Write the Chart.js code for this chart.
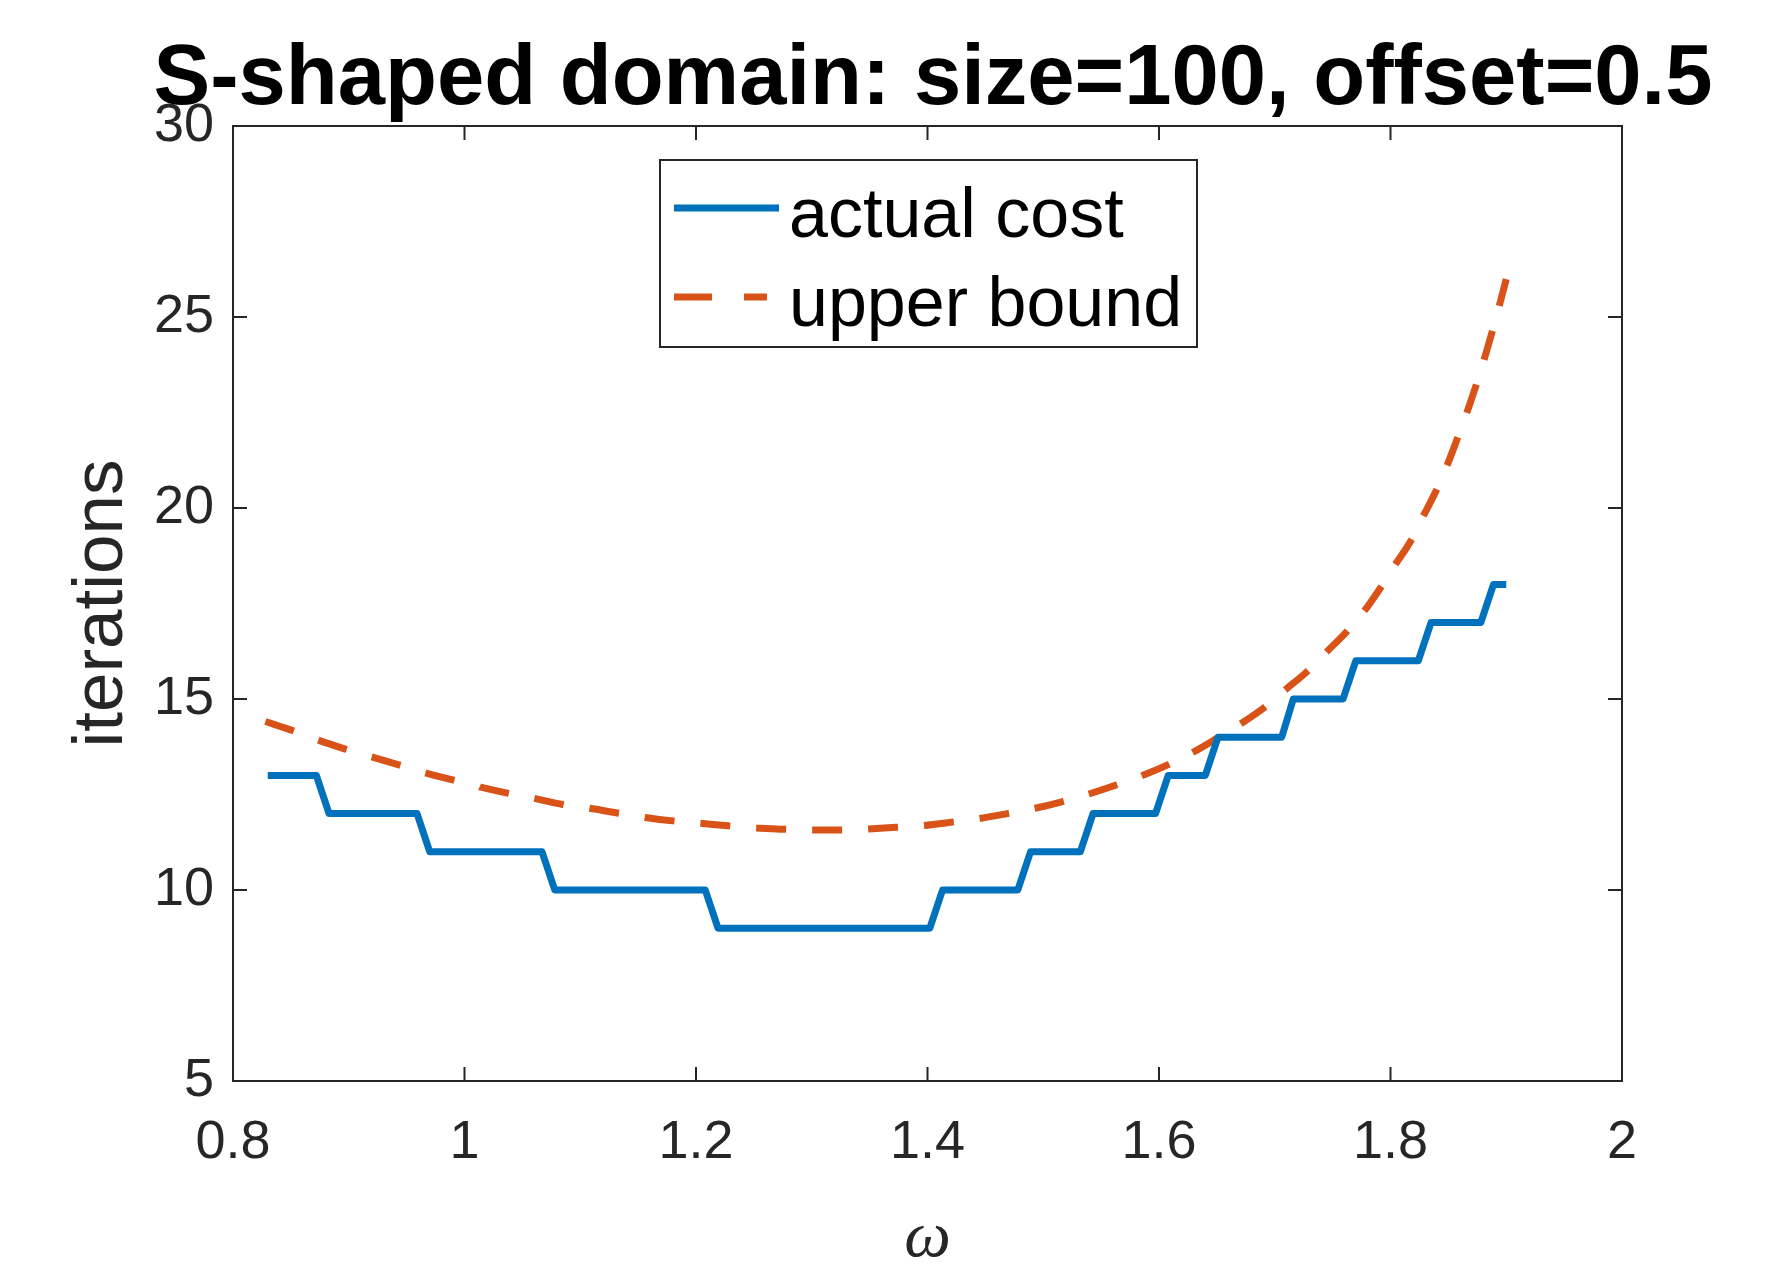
<!DOCTYPE html>
<html>
<head>
<meta charset="utf-8">
<script src="https://cdn.jsdelivr.net/npm/chart.js@4.4.1/dist/chart.umd.min.js"></script>
<style>
  html, body { margin: 0; padding: 0; background: #fff; }
  #wrap { width: 1792px; height: 1280px; }
</style>
</head>
<body>
<div id="wrap"><canvas id="chart" width="1792" height="1280"></canvas></div>
<script>
// actual cost: corners of the staircase (omega, iterations)
const costOmega = [0.830, 0.872, 0.883, 0.959, 0.970, 1.067, 1.078, 1.208, 1.219, 1.402,
                   1.413, 1.478, 1.489, 1.532, 1.543, 1.597, 1.608, 1.640, 1.651, 1.706,
                   1.716, 1.759, 1.770, 1.824, 1.835, 1.878, 1.889, 1.900];
const costIters = [13, 13, 12, 12, 11, 11, 10, 10, 9, 9,
                   10, 10, 11, 11, 12, 12, 13, 13, 14, 14,
                   15, 15, 16, 16, 17, 17, 18, 18];

// upper bound curve, read along the dashes
const boundOmega = [0.828, 0.852, 0.873, 0.897, 0.919, 0.944, 0.966, 0.990, 1.013, 1.038,
                    1.060, 1.085, 1.108, 1.133, 1.156, 1.180, 1.203, 1.228, 1.252, 1.276,
                    1.301, 1.325, 1.349, 1.373, 1.397, 1.422, 1.445, 1.469, 1.493, 1.516,
                    1.540, 1.563, 1.585, 1.607, 1.629, 1.650, 1.671, 1.691, 1.709, 1.728,
                    1.745, 1.762, 1.777, 1.792, 1.804, 1.818, 1.828, 1.840, 1.850, 1.860,
                    1.870, 1.880, 1.890, 1.900];
const boundIters = [14.41, 14.17, 13.93, 13.69, 13.49, 13.27, 13.07, 12.88, 12.70, 12.53,
                    12.40, 12.24, 12.14, 12.01, 11.90, 11.81, 11.75, 11.68, 11.62, 11.59,
                    11.57, 11.57, 11.60, 11.64, 11.69, 11.78, 11.87, 12.00, 12.14, 12.31,
                    12.52, 12.75, 12.99, 13.27, 13.60, 13.97, 14.36, 14.78, 15.24, 15.72,
                    16.24, 16.76, 17.29, 17.94, 18.51, 19.16, 19.77, 20.49, 21.20, 22.00,
                    22.85, 23.80, 24.85, 25.99];

const seriesNames = ['actual cost', 'upper bound'];
const xTicks = [0.8, 1, 1.2, 1.4, 1.6, 1.8, 2];
const yTicks = [5, 10, 15, 20, 25, 30];
const titleText = 'S-shaped domain: size=100, offset=0.5';

const SANS = '"Liberation Sans", Arial, Helvetica, sans-serif';
const AXIS = '#262626';
const BLUE = '#0072BD';
const ORANGE = '#D95319';
const DASH = [30, 26];

const costData = costOmega.map((x, i) => ({ x: x, y: costIters[i] }));
const boundData = boundOmega.map((x, i) => ({ x: x, y: boundIters[i] }));

// box round the axes with inward tick marks, plus the title
const boxPlugin = {
    id: 'boxTicks',
    afterDraw(chart) {
        const { ctx, chartArea: a, scales } = chart;
        const len = 14;
        ctx.save();
        ctx.strokeStyle = AXIS;
        ctx.lineWidth = 2;
        ctx.strokeRect(a.left, a.top, a.right - a.left, a.bottom - a.top);
        ctx.beginPath();
        xTicks.forEach(v => {
            const px = scales.x.getPixelForValue(v);
            ctx.moveTo(px, a.bottom); ctx.lineTo(px, a.bottom - len);
            ctx.moveTo(px, a.top); ctx.lineTo(px, a.top + len);
        });
        yTicks.forEach(v => {
            const py = scales.y.getPixelForValue(v);
            ctx.moveTo(a.left, py); ctx.lineTo(a.left + len, py);
            ctx.moveTo(a.right, py); ctx.lineTo(a.right - len, py);
        });
        ctx.stroke();

        // title, centred a little right of the plot centre as in the figure
        ctx.fillStyle = '#000';
        ctx.font = 'bold 85px ' + SANS;
        ctx.textAlign = 'center';
        ctx.textBaseline = 'alphabetic';
        ctx.fillText(titleText, 933, 104);
        ctx.restore();
    }
};

// legend box inside the plot, top centre
const legendPlugin = {
    id: 'boxLegend',
    afterDraw(chart) {
        const ctx = chart.ctx;
        const bx = 660, by = 160, bw = 537, bh = 187;
        ctx.save();
        ctx.fillStyle = '#fff';
        ctx.fillRect(bx, by, bw, bh);
        ctx.strokeStyle = AXIS;
        ctx.lineWidth = 2;
        ctx.strokeRect(bx, by, bw, bh);
        const rows = [208, 297];
        chart.data.datasets.forEach((ds, i) => {
            const y = rows[i];
            const dashed = !!ds.borderDash;
            ctx.strokeStyle = ds.borderColor;
            ctx.lineWidth = ds.borderWidth;
            ctx.setLineDash(dashed ? [38, 32] : []);
            ctx.beginPath();
            ctx.moveTo(674, y);
            ctx.lineTo(dashed ? 767 : 779, y);
            ctx.stroke();
            ctx.setLineDash([]);
            ctx.fillStyle = '#000';
            ctx.font = '70px ' + SANS;
            ctx.textBaseline = 'alphabetic';
            ctx.textAlign = 'left';
            ctx.fillText(ds.label, 789, y + 29);
        });
        ctx.restore();
    }
};

new Chart(document.getElementById('chart'), {
    type: 'line',
    data: {
        datasets: [{
            label: seriesNames[0],
            data: costData,
            borderColor: BLUE,
            borderWidth: 7,
            borderJoinStyle: 'round',
            pointRadius: 0,
            tension: 0
        }, {
            label: seriesNames[1],
            data: boundData,
            borderColor: ORANGE,
            borderWidth: 7,
            borderDash: DASH,
            pointRadius: 0,
            cubicInterpolationMode: 'monotone'
        }]
    },
    plugins: [boxPlugin, legendPlugin],
    options: {
        responsive: false,
        devicePixelRatio: 1,
        animation: false,
        layout: { padding: { left: 0, right: 170, top: 126, bottom: 0 } },
        plugins: {
            legend: { display: false },
            tooltip: { enabled: false },
            title: { display: false }
        },
        scales: {
            x: {
                type: 'linear',
                min: 0.8,
                max: 2,
                afterBuildTicks(scale) { scale.ticks = xTicks.map(v => ({ value: v })); },
                afterFit(scale) { scale.height = 199; },
                grid: { display: false, drawTicks: false },
                border: { display: false },
                ticks: {
                    color: AXIS,
                    padding: 30,
                    font: { family: SANS, size: 54 },
                    callback: v => String(v)
                },
                title: {
                    display: true,
                    text: 'ω',
                    color: AXIS,
                    font: { family: '"Liberation Serif", "DejaVu Serif", serif', size: 66, style: 'italic' },
                    padding: { top: 0, bottom: 2 }
                }
            },
            y: {
                type: 'linear',
                min: 5,
                max: 30,
                afterBuildTicks(scale) { scale.ticks = yTicks.map(v => ({ value: v })); },
                afterFit(scale) { scale.width = 233; },
                grid: { display: false, drawTicks: false },
                border: { display: false },
                ticks: {
                    color: AXIS,
                    padding: 19,
                    font: { family: SANS, size: 54 },
                    callback: v => String(v)
                },
                title: {
                    display: true,
                    text: 'iterations',
                    color: AXIS,
                    font: { family: SANS, size: 71 },
                    padding: { top: 60, bottom: 0 }
                }
            }
        }
    }
});
</script>
</body>
</html>
